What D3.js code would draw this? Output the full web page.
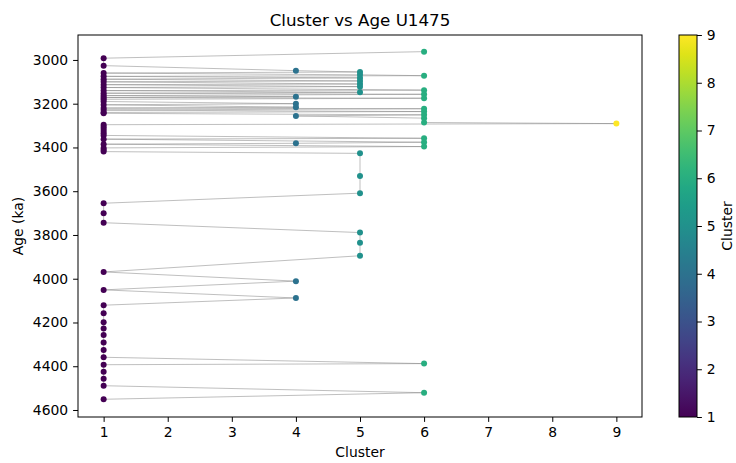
<!DOCTYPE html>
<html>
<head>
<meta charset="utf-8">
<script src="https://cdn.jsdelivr.net/npm/d3@7"></script>
<style>
  body { margin: 0; background: #fff; }
  svg { display: block; font-family: "DejaVu Sans", sans-serif; }
</style>
</head>
<body>
<svg id="chart" width="736" height="463"></svg>
<script>
// Samples in stratigraphic (age) order
const ages = [
  2962, 2992, 3026, 3049, 3055, 3060, 3068, 3072, 3075, 3082,
  3088, 3096, 3100, 3110, 3113, 3122, 3126, 3138, 3140, 3148,
  3152, 3157, 3163, 3168, 3172, 3175, 3180, 3190, 3200, 3205,
  3216, 3220, 3223, 3229, 3236, 3240, 3244, 3251, 3256, 3266,
  3286, 3291, 3296, 3305, 3315, 3325, 3335, 3345, 3358, 3362,
  3376, 3381, 3385, 3396, 3402, 3410, 3419, 3427, 3530, 3609,
  3655, 3701, 3744, 3789, 3835, 3895, 3969, 4011, 4051, 4088,
  4121, 4158, 4199, 4227, 4257, 4291, 4326, 4359, 4388, 4393,
  4425, 4457, 4489, 4521, 4551
];
const clusters = [
  6, 1, 1, 4, 5, 1, 5, 6, 1, 5,
  1, 5, 1, 5, 1, 5, 1, 6, 1, 5,
  1, 6, 1, 4, 1, 6, 1, 1, 4, 1,
  4, 1, 6, 1, 6, 1, 1, 6, 4, 6,
  6, 9, 1, 1, 1, 1, 1, 1, 6, 1,
  6, 4, 1, 6, 1, 1, 1, 5, 5, 5,
  1, 1, 1, 5, 5, 5, 1, 4, 1, 4,
  1, 1, 1, 1, 1, 1, 1, 1, 6, 1,
  1, 1, 1, 6, 1
];
const xTicks = [1, 2, 3, 4, 5, 6, 7, 8, 9];
const yTicks = [3000, 3200, 3400, 3600, 3800, 4000, 4200, 4400, 4600];
const cbarTicks = [1, 2, 3, 4, 5, 6, 7, 8, 9];
const titleText = "Cluster vs Age U1475";
const xLabel = "Cluster";
const yLabel = "Age (ka)";
const cbarLabel = "Cluster";

const data = ages.map((a, i) => ({age: a, cluster: clusters[i]}));

const svg = d3.select("#chart");
const L = 78, R = 642, T = 35, B = 417;
const FS = 13.9, TS = 4.9, TP = 4.9;

const x = d3.scaleLinear().domain([0.6, 9.4]).range([L, R]);
const y = d3.scaleLinear().domain([2886, 4632]).range([T, B]);
const color = d3.scaleSequential(d3.interpolateViridis).domain([1, 9]);

// connecting line
const line = d3.line().x(d => x(d.cluster)).y(d => y(d.age));
svg.append("path")
  .datum(data)
  .attr("d", line)
  .attr("fill", "none")
  .attr("stroke", "#808080")
  .attr("stroke-opacity", 0.5)
  .attr("stroke-width", 1);

// points
svg.append("g").selectAll("circle")
  .data(data)
  .join("circle")
  .attr("cx", d => x(d.cluster))
  .attr("cy", d => y(d.age))
  .attr("r", 3)
  .attr("fill", d => color(d.cluster));

// frame
svg.append("rect")
  .attr("x", L).attr("y", T).attr("width", R - L).attr("height", B - T)
  .attr("fill", "none").attr("stroke", "#000").attr("stroke-width", 1);

// axes
const xAxis = svg.append("g").attr("transform", `translate(0,${B})`)
  .call(d3.axisBottom(x).tickValues(xTicks).tickFormat(d3.format("d")).tickSizeOuter(0).tickSize(TS).tickPadding(TP));
const yAxis = svg.append("g").attr("transform", `translate(${L},0)`)
  .call(d3.axisLeft(y).tickValues(yTicks).tickFormat(d3.format("d")).tickSizeOuter(0).tickSize(TS).tickPadding(TP));
[xAxis, yAxis].forEach(g => {
  g.select(".domain").remove();
  g.selectAll("text").attr("font-size", FS).attr("font-family", "DejaVu Sans").attr("fill", "#000");
  g.selectAll("line").attr("stroke", "#000").attr("stroke-width", 1);
});

// titles
svg.append("text").attr("x", (L + R) / 2).attr("y", 26).attr("text-anchor", "middle")
  .attr("font-size", 16.7).attr("fill", "#000").text(titleText);
svg.append("text").attr("x", (L + R) / 2).attr("y", 457).attr("text-anchor", "middle")
  .attr("font-size", FS).attr("fill", "#000").text(xLabel);
svg.append("text").attr("transform", `translate(23,${(T + B) / 2}) rotate(-90)`)
  .attr("text-anchor", "middle").attr("font-size", FS).attr("fill", "#000").text(yLabel);

// colorbar
const cbL = 679, cbW = 18;
const cy = d3.scaleLinear().domain([1, 9]).range([B, T]);
const defs = svg.append("defs");
const grad = defs.append("linearGradient").attr("id", "vgrad")
  .attr("x1", "0").attr("y1", "1").attr("x2", "0").attr("y2", "0");
d3.range(0, 1.0001, 0.05).forEach(t => {
  grad.append("stop").attr("offset", t).attr("stop-color", d3.interpolateViridis(t));
});
svg.append("rect").attr("x", cbL).attr("y", T).attr("width", cbW).attr("height", B - T)
  .attr("fill", "url(#vgrad)").attr("stroke", "#000").attr("stroke-width", 1);
const cAxis = svg.append("g").attr("transform", `translate(${cbL + cbW},0)`)
  .call(d3.axisRight(cy).tickValues(cbarTicks).tickFormat(d3.format("d")).tickSizeOuter(0).tickSize(TS).tickPadding(TP));
cAxis.select(".domain").remove();
cAxis.selectAll("text").attr("font-size", FS).attr("font-family", "DejaVu Sans").attr("fill", "#000");
cAxis.selectAll("line").attr("stroke", "#000").attr("stroke-width", 1);
svg.append("text").attr("transform", `translate(732,${(T + B) / 2}) rotate(-90)`)
  .attr("text-anchor", "middle").attr("font-size", FS).attr("fill", "#000").text(cbarLabel);
</script>
</body>
</html>
